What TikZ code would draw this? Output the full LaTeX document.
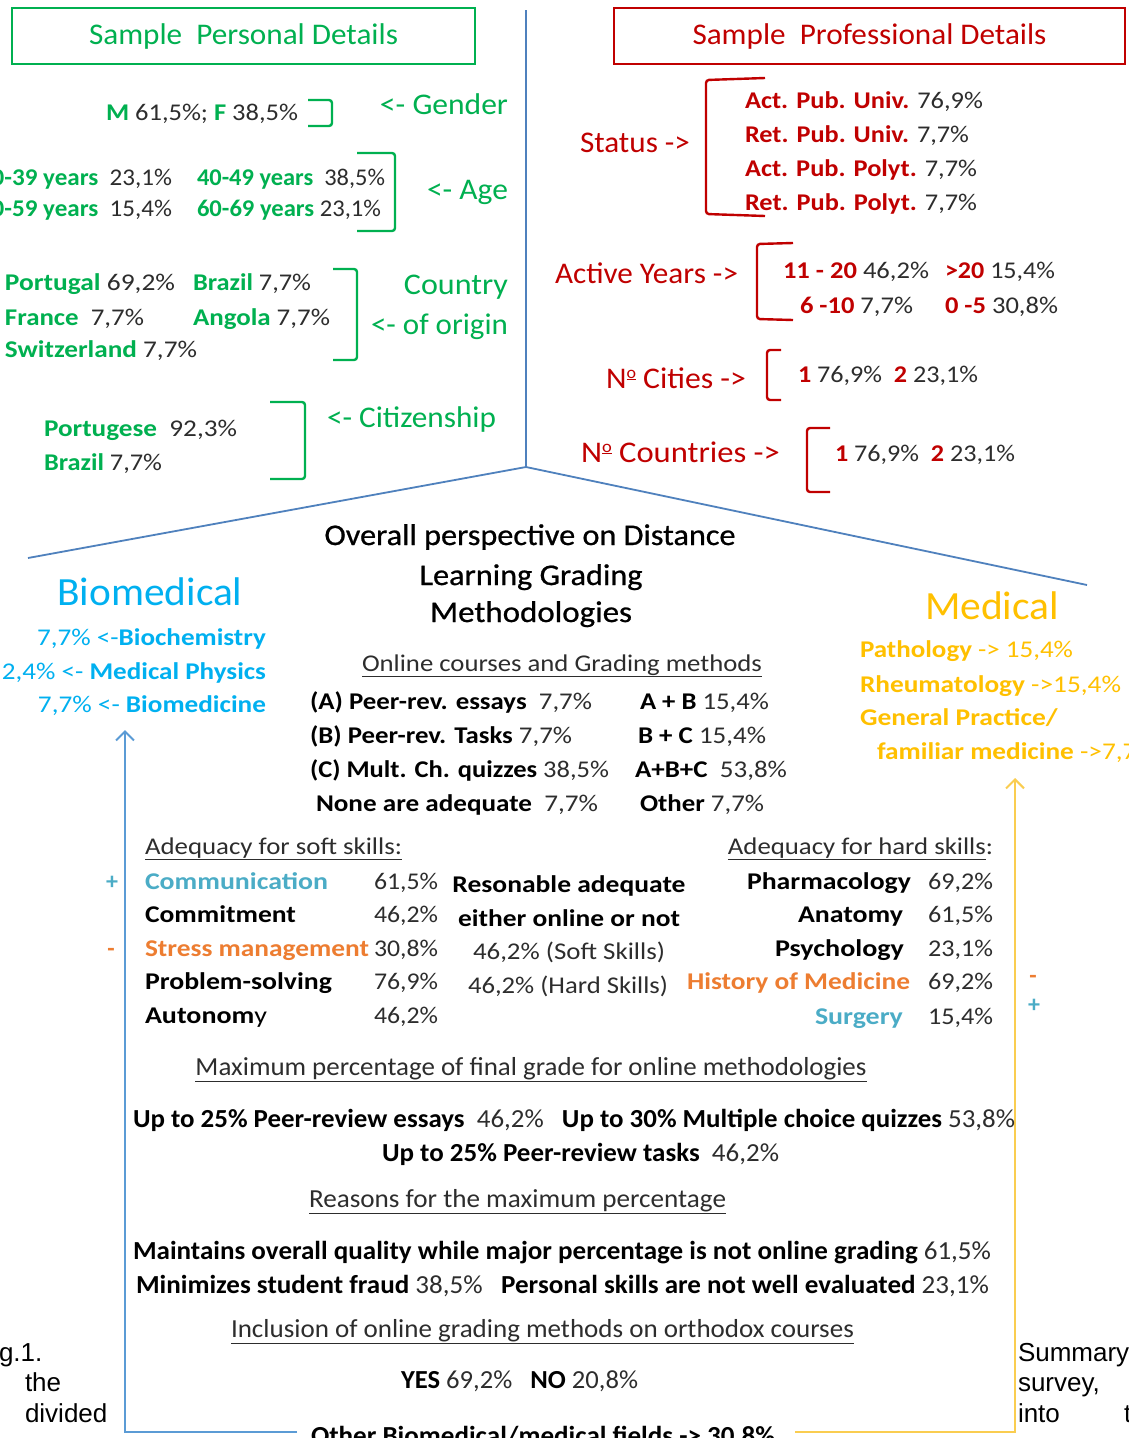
\documentclass[tikz,border=0pt]{standalone}
\usepackage{fontspec}
\setmainfont{Carlito}
\newfontfamily\capfont{Liberation Sans}
\newfontfamily\titlefont{Carlito}[FakeBold=0.7]
\usepackage{graphicx}
\usetikzlibrary{arrows.meta}
\definecolor{cgreen}{RGB}{0,176,80}
\definecolor{cred}{RGB}{192,0,0}
\definecolor{cnum}{RGB}{45,45,45}
\definecolor{cblue}{RGB}{79,129,189}
\definecolor{cblue2}{RGB}{91,155,213}
\definecolor{ccyan}{RGB}{0,176,240}
\definecolor{cyel}{RGB}{255,192,0}
\definecolor{cyel2}{RGB}{250,205,80}
\definecolor{cteal}{RGB}{75,172,198}
\definecolor{corange}{RGB}{237,125,49}
\newcommand\fw[2]{\resizebox{#1pt}{\height}{#2}}
\newcommand\gb[1]{{\bfseries\color{cgreen}#1}}
\newcommand\rb[1]{{\bfseries\color{cred}#1}}
\newcommand\numero{N\raisebox{10pt}{\fontsize{17}{17}\selectfont\underline{o}}}
\tikzset{
  tx/.style={inner sep=0pt, outer sep=0pt, text=cnum},
  s24/.style={tx, font=\fontsize{24}{28}\selectfont},
  s26/.style={tx, font=\fontsize{26}{30}\selectfont},
  s30/.style={tx, font=\fontsize{30}{34}\selectfont},
  s40/.style={tx, font=\fontsize{40}{44}\selectfont},
  ttl/.style={tx, text=black, font=\titlefont\fontsize{30}{34}\selectfont},
  captext/.style={inner sep=0pt, outer sep=0pt, text=black, font=\capfont\fontsize{26}{30}\selectfont},
  gbrk/.style={draw=cgreen, line width=2.4pt, rounded corners=3pt},
  rbrk/.style={draw=cred, line width=2.4pt, rounded corners=3pt},
  frame/.style={draw=cblue, line width=1.8pt},
  hbox/.style={line width=2.5pt, anchor=north west, inner sep=0pt},
}
\begin{document}
\begin{tikzpicture}[x=1pt,y=-1pt]
\useasboundingbox (0,0) rectangle (1129,1438);
\fill[white] (0,0) rectangle (1129,1438);
\clip (0,0) rectangle (1129,1438);

% ---------- frame lines
\coordinate (vtop) at (526,10);
\coordinate (apex) at (526,467);
\coordinate (lend) at (28,558);
\coordinate (rend) at (1087,585);
\draw[frame] (vtop) -- (apex) -- (lend);
\draw[frame] (apex) -- (rend);

% ---------- header boxes
\node[hbox, draw=cgreen, minimum width=463pt, minimum height=56pt, s30, text=cgreen] (pers) at (12,8) {\raisebox{-3pt}{\fw{309}{Sample\ \ Personal Details}}};
\node[hbox, draw=cred, minimum width=511pt, minimum height=56pt, s30, text=cred] (prof) at (614,8) {\raisebox{-3pt}{\fw{354}{Sample\ \ Professional Details}}};

% ---------- personal details
\node[s24, anchor=base west] (gend) at (106,120) {\fw{192}{\gb{M} 61,5\%; \gb{F} 38,5\%}};
\draw[gbrk] (308,100) -- (332,100) -- (332,126) -- (308,126);
\node[s30, text=cgreen, anchor=base east] (gendl) at (508,114) {\fw{128}{<- Gender}};

\node[s24, anchor=base east] (age1l) at (172,185) {\fw{193}{\gb{30-39 years}\ \ 23,1\%}};
\node[s24, anchor=base west] (age1r) at (197,185) {\fw{188}{\gb{40-49 years}\ \ 38,5\%}};
\node[s24, anchor=base east] (age2l) at (172,216) {\fw{193}{\gb{50-59 years}\ \ 15,4\%}};
\node[s24, anchor=base west] (age2r) at (197,216) {\fw{184}{\gb{60-69 years} 23,1\%}};
\draw[gbrk] (357,153) -- (395,153) -- (395,231) -- (357,231);
\node[s30, text=cgreen, anchor=base east] (agel) at (508,199) {\fw{81}{<- Age}};

\node[s24, anchor=base west] (c1a) at (5,290) {\fw{170}{\gb{Portugal} 69,2\%}};
\node[s24, anchor=base west] (c1b) at (193,290) {\fw{118}{\gb{Brazil} 7,7\%}};
\node[s24, anchor=base west] (c2a) at (5,325) {\fw{139}{\gb{France}\ \ 7,7\%}};
\node[s24, anchor=base west] (c2b) at (193,325) {\fw{137}{\gb{Angola} 7,7\%}};
\node[s24, anchor=base west] (c3a) at (5,357) {\fw{192}{\gb{Switzerland} 7,7\%}};
\draw[gbrk] (333,269) -- (357,269) -- (357,360) -- (333,360);
\node[s30, text=cgreen, anchor=base east] (coun1) at (508,294) {\fw{104}{Country}};
\node[s30, text=cgreen, anchor=base east] (coun2) at (508,334) {\fw{137}{<- of origin}};

\node[s24, anchor=base west] (cit1) at (44,436) {\fw{193}{\gb{Portugese}\ \ 92,3\%}};
\node[s24, anchor=base west] (cit2) at (44,470) {\fw{118}{\gb{Brazil} 7,7\%}};
\draw[gbrk] (270,402) -- (305,402) -- (305,479) -- (270,479);
\node[s30, text=cgreen, anchor=base west] (citl) at (327,427) {\fw{169}{<- Citizenship}};

% ---------- professional details
\node[s30, text=cred, anchor=base west] (stat) at (580,152) {\fw{110}{Status ->}};
\draw[rbrk] (765,78) -- (706,80) -- (706,214) -- (765,216);
\node[s24, anchor=base west] (st1) at (745,108) {\fw{238}{\rb{Act. Pub. Univ.} 76,9\%}};
\node[s24, anchor=base west] (st2) at (745,142) {\fw{224}{\rb{Ret. Pub. Univ.} 7,7\%}};
\node[s24, anchor=base west] (st3) at (745,176) {\fw{232}{\rb{Act. Pub. Polyt.} 7,7\%}};
\node[s24, anchor=base west] (st4) at (745,210) {\fw{232}{\rb{Ret. Pub. Polyt.} 7,7\%}};

\node[s30, text=cred, anchor=base west] (act) at (555,283) {\fw{183}{Active Years ->}};
\draw[rbrk] (793,243) -- (757,244) -- (757,319) -- (793,320);
\node[s24, anchor=base west] (ay1) at (783,278) {\fw{146}{\rb{11 - 20} 46,2\%}};
\node[s24, anchor=base west] (ay2) at (945,278) {\fw{110}{\rb{>20} 15,4\%}};
\node[s24, anchor=base west] (ay3) at (800,313) {\fw{113}{\rb{6 -10} 7,7\%}};
\node[s24, anchor=base west] (ay4) at (945,313) {\fw{113}{\rb{0 -5} 30,8\%}};

\node[s30, text=cred, anchor=base west] (cit) at (606,388) {\fw{140}{\numero\ Cities ->}};
\draw[rbrk] (781,350) -- (767,350) -- (767,400) -- (781,400);
\node[s24, anchor=base west] (citv) at (798,382) {\fw{180}{\rb{1} 76,9\%\ \ \rb{2} 23,1\%}};

\node[s30, text=cred, anchor=base west] (cnt) at (581,462) {\fw{199}{\numero\ Countries ->}};
\draw[rbrk] (830,428) -- (807,428) -- (807,492) -- (830,492);
\node[s24, anchor=base west] (cntv) at (835,461) {\fw{180}{\rb{1} 76,9\%\ \ \rb{2} 23,1\%}};

% ---------- title
\node[ttl, anchor=base] (t1) at (530,545) {\fw{411}{Overall perspective on Distance}};
\node[ttl, anchor=base] (t2) at (531,585) {\fw{223}{Learning Grading}};
\node[ttl, anchor=base] (t3) at (531,622) {\fw{202}{Methodologies}};

% ---------- biomedical
\node[s40, text=ccyan, anchor=base] (bio) at (150,605) {\fw{185}{Biomedical}};
\node[s24, text=ccyan, anchor=base east] (bio1) at (266,645) {\fw{229}{7,7\% <-\textbf{Biochemistry}}};
\node[s24, text=ccyan, anchor=base east] (bio2) at (266,679) {\fw{264}{2,4\% <- \textbf{Medical Physics}}};
\node[s24, text=ccyan, anchor=base east] (bio3) at (266,712) {\fw{228}{7,7\% <- \textbf{Biomedicine}}};

% ---------- medical
\node[s40, text=cyel, anchor=base] (med) at (992,619) {\fw{134}{Medical}};
\node[s24, text=cyel, anchor=base west] (med1) at (860,657) {\fw{213}{\textbf{Pathology} -> 15,4\%}};
\node[s24, text=cyel, anchor=base west] (med2) at (860,692) {\fw{261}{\textbf{Rheumatology} ->15,4\%}};
\node[s24, text=cyel, anchor=base west] (med3) at (860,725) {\fw{198}{\textbf{General Practice/}}};
\node[s24, text=cyel, anchor=base west] (med4) at (877,759) {\fw{279}{\textbf{familiar medicine} ->7,7\%}};

% ---------- arrows
\coordinate (bioTip) at (125,730);
\coordinate (bioCorner) at (125,1432);
\coordinate (bioEnd) at (297,1432);
\draw[cblue2, line width=2pt, -{Straight Barb[length=9pt,width=18pt]}] (bioEnd) -- (bioCorner) -- (bioTip);
\coordinate (medTip) at (1015,778);
\coordinate (medCorner) at (1015,1432);
\coordinate (medEnd) at (795,1432);
\draw[cyel2, line width=2pt, -{Straight Barb[length=9pt,width=18pt]}] (medEnd) -- (medCorner) -- (medTip);

% ---------- online methods
\node[s24, anchor=base] (onl) at (562,671) {\fw{400}{\underline{Online courses and Grading methods}}};
\node[s24, anchor=base west] (m1) at (310,709) {\fw{282}{\textbf{\color{black}(A) Peer-rev. essays}\ \ 7,7\%}};
\node[s24, anchor=base west] (m2) at (640,709) {\fw{129}{\textbf{\color{black}A + B} 15,4\%}};
\node[s24, anchor=base west] (m3) at (310,743) {\fw{262}{\textbf{\color{black}(B) Peer-rev. Tasks} 7,7\%}};
\node[s24, anchor=base west] (m4) at (638,743) {\fw{128}{\textbf{\color{black}B + C} 15,4\%}};
\node[s24, anchor=base west] (m5) at (310,777) {\fw{299}{\textbf{\color{black}(C) Mult. Ch. quizzes} 38,5\%}};
\node[s24, anchor=base west] (m6) at (635,777) {\fw{152}{\textbf{\color{black}A+B+C}\ \ 53,8\%}};
\node[s24, anchor=base west] (m7) at (316,811) {\fw{282}{\textbf{\color{black}None are adequate}\ \ 7,7\%}};
\node[s24, anchor=base west] (m8) at (640,811) {\fw{124}{\textbf{\color{black}Other} 7,7\%}};

% ---------- soft skills
\node[s24, anchor=base west] (soft) at (145,854) {\fw{257}{\underline{Adequacy for soft skills:}}};
\node[s24, text=cteal, anchor=base] (plusL) at (112,889) {\textbf{+}};
\node[s24, text=corange, anchor=base] (minL) at (111,956) {\textbf{-}};
\node[s24, text=cteal, anchor=base west] (sk1) at (145,889) {\fw{183}{\textbf{Communication}}};
\node[s24, text=black, anchor=base west] (sk2) at (145,922) {\fw{151}{\textbf{Commitment}}};
\node[s24, text=corange, anchor=base west] (sk3) at (145,956) {\fw{224}{\textbf{Stress management}}};
\node[s24, text=black, anchor=base west] (sk4) at (145,989) {\fw{187}{\textbf{Problem-solving}}};
\node[s24, text=black, anchor=base west] (sk5) at (145,1023) {\fw{122}{\textbf{Autonom}y}};
\node[s24, anchor=base east] (sp1) at (438,889) {\fw{64}{61,5\%}};
\node[s24, anchor=base east] (sp2) at (438,922) {\fw{64}{46,2\%}};
\node[s24, anchor=base east] (sp3) at (438,956) {\fw{64}{30,8\%}};
\node[s24, anchor=base east] (sp4) at (438,989) {\fw{64}{76,9\%}};
\node[s24, anchor=base east] (sp5) at (438,1023) {\fw{64}{46,2\%}};

\node[s24, text=black, anchor=base] (mid1) at (569,892) {\fw{233}{\textbf{Resonable adequate}}};
\node[s24, text=black, anchor=base] (mid2) at (569,926) {\fw{222}{\textbf{either online or not}}};
\node[s24, anchor=base] (mid3) at (569,959) {\fw{192}{46,2\% (Soft Skills)}};
\node[s24, anchor=base] (mid4) at (568,993) {\fw{200}{46,2\% (Hard Skills)}};

% ---------- hard skills
\node[s24, anchor=base east] (hard) at (993,854) {\fw{265}{\underline{Adequacy for hard skills}:}};
\node[s24, text=black, anchor=base east] (hk1) at (911,889) {\fw{164}{\textbf{Pharmacology}}};
\node[s24, text=black, anchor=base east] (hk2) at (903,922) {\fw{105}{\textbf{Anatomy}}};
\node[s24, text=black, anchor=base east] (hk3) at (904,956) {\fw{129}{\textbf{Psychology}}};
\node[s24, text=corange, anchor=base east] (hk4) at (910,989) {\fw{223}{\textbf{History of Medicine}}};
\node[s24, text=cteal, anchor=base east] (hk5) at (903,1024) {\fw{88}{\textbf{Surgery}}};
\node[s24, anchor=base east] (hp1) at (993,889) {\fw{65}{69,2\%}};
\node[s24, anchor=base east] (hp2) at (993,922) {\fw{65}{61,5\%}};
\node[s24, anchor=base east] (hp3) at (993,956) {\fw{65}{23,1\%}};
\node[s24, anchor=base east] (hp4) at (993,989) {\fw{65}{69,2\%}};
\node[s24, anchor=base east] (hp5) at (993,1024) {\fw{65}{15,4\%}};
\node[s24, text=corange, anchor=base] (minR) at (1033,983) {\textbf{-}};
\node[s24, text=cteal, anchor=base] (plusR) at (1034,1012) {\textbf{+}};

% ---------- bottom block
\node[s26, anchor=base] (maxp) at (531,1075) {\fw{671}{\underline{Maximum percentage of final grade for online methodologies}}};
\node[s26, anchor=base west] (up1) at (133,1127) {\fw{882}{\textbf{\color{black}Up to 25\% Peer-review essays}\ \ 46,2\%\ \ \ \textbf{\color{black}Up to 30\% Multiple choice quizzes} 53,8\%}};
\node[s26, anchor=base west] (up2) at (382,1161) {\fw{397}{\textbf{\color{black}Up to 25\% Peer-review tasks}\ \ 46,2\%}};
\node[s26, anchor=base west] (reas) at (309,1207) {\fw{417}{\underline{Reasons for the maximum percentage}}};
\node[s26, anchor=base west] (r1) at (133,1259) {\fw{858}{\textbf{\color{black}Maintains overall quality while major percentage is not online grading} 61,5\%}};
\node[s26, anchor=base west] (r2) at (136,1293) {\fw{853}{\textbf{\color{black}Minimizes student fraud} 38,5\%\ \ \ \textbf{\color{black}Personal skills are not well evaluated} 23,1\%}};
\node[s26, anchor=base west] (incl) at (231,1337) {\fw{623}{\underline{Inclusion of online grading methods on orthodox courses}}};
\node[s26, anchor=base west] (yes) at (401,1388) {\fw{237}{\textbf{\color{black}YES} 69,2\%\ \ \ \textbf{\color{black}NO} 20,8\%}};
\node[s26, text=black, anchor=base west] (oth) at (311,1444) {\fw{464}{\textbf{Other Biomedical/medical fields -> 30,8\%}}};

% ---------- caption fragments
\node[captext, anchor=base west] (cap1) at (-1,1361) {g.1.};
\node[captext, anchor=base west] (cap2) at (25,1391) {the};
\node[captext, anchor=base west] (cap3) at (25,1422) {divided};
\node[captext, anchor=base west] (cap4) at (1018,1361) {Summary};
\node[captext, anchor=base west] (cap5) at (1018,1391) {survey,};
\node[captext, anchor=base west] (cap6) at (1018,1422) {into};
\node[captext, anchor=base west] (cap7) at (1124,1422) {t};
\end{tikzpicture}
\end{document}
